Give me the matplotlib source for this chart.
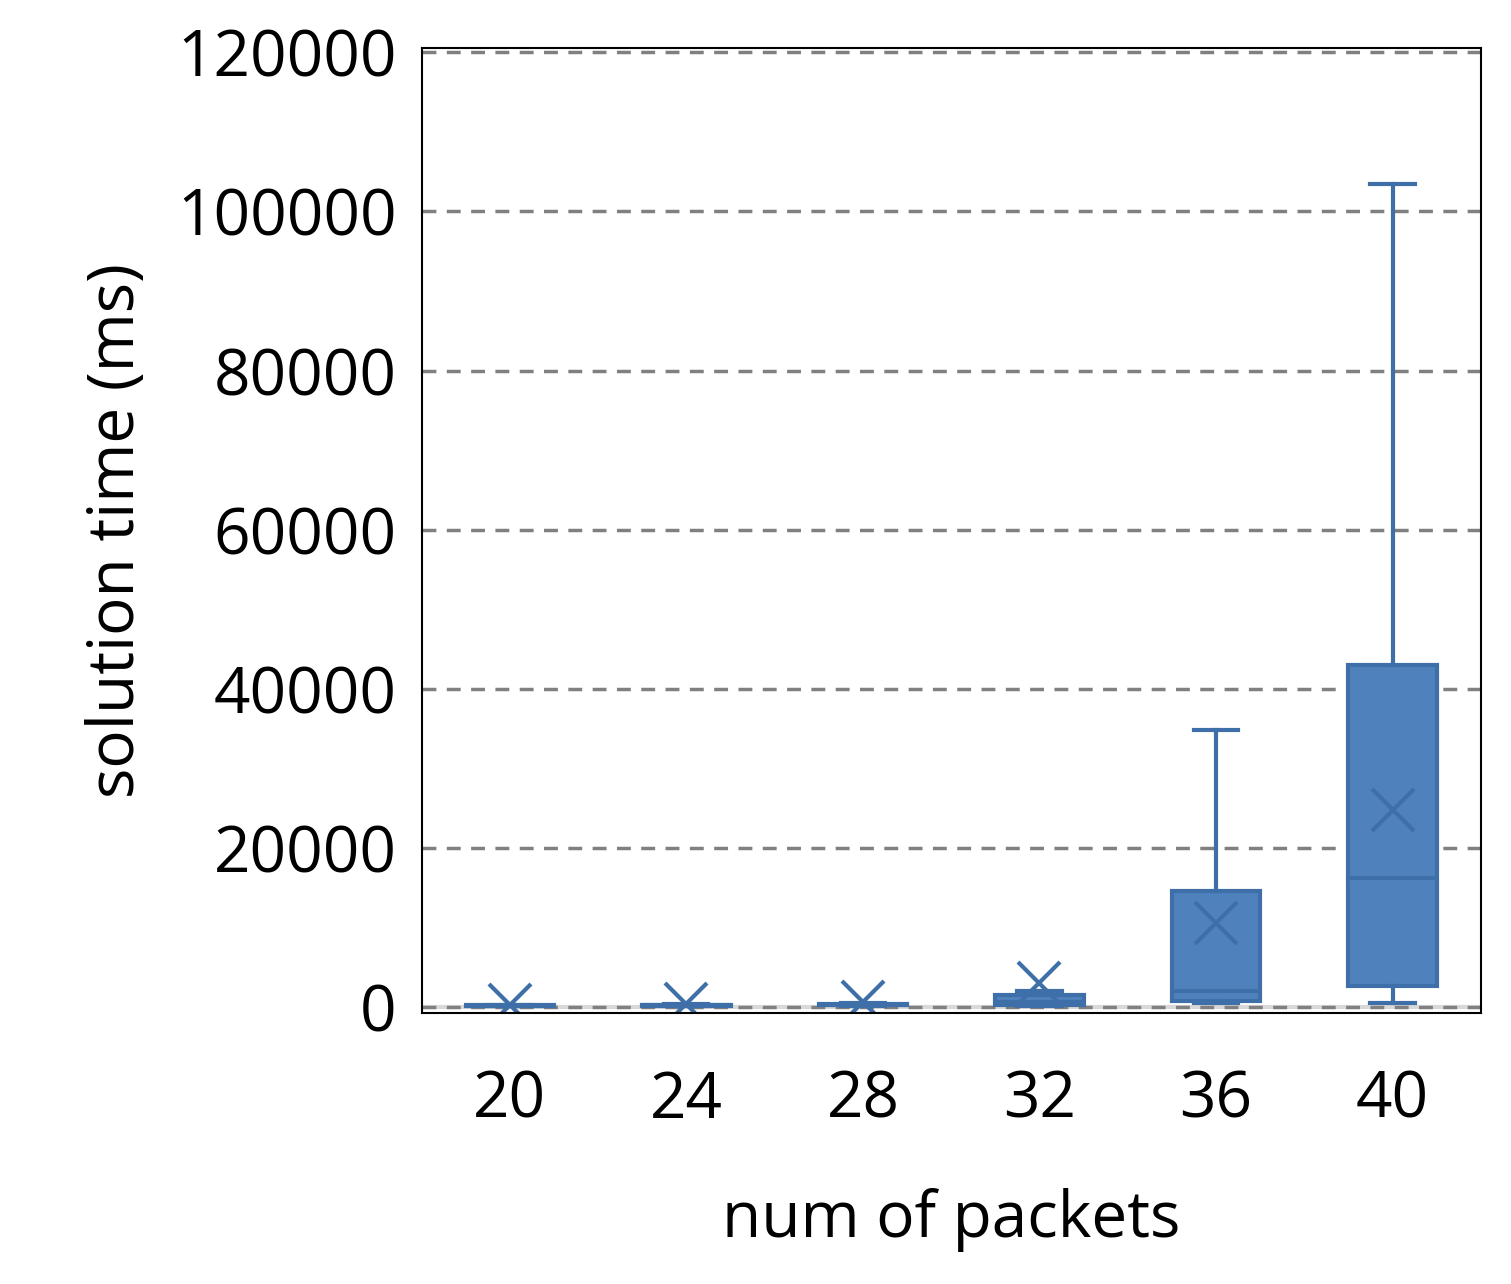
import matplotlib
matplotlib.use("Agg")
import matplotlib.pyplot as plt

plt.rcParams['font.family'] = ['Open Sans', 'DejaVu Sans']

# values (ms)
packets = ["20", "24", "28", "32", "36", "40"]
whislo = [100, 100, 150, 200, 500, 500]
q1 = [150, 200, 250, 300, 800, 2700]
med = [200, 250, 300, 700, 2000, 16200]
q3 = [250, 300, 400, 1500, 14600, 43000]
whishi = [300, 350, 500, 2000, 34800, 103500]
mean = [300, 350, 600, 3000, 10600, 24800]

stats = []
for i in range(len(packets)):
    stats.append(dict(label=packets[i], whislo=whislo[i], q1=q1[i], med=med[i],
                      q3=q3[i], whishi=whishi[i], mean=mean[i], fliers=[]))

fig = plt.figure(figsize=(15.11, 12.84), dpi=100)
ax = fig.add_axes([0.279, 0.211, 0.701, 0.752])

edge = '#3F6FA8'
ax.bxp(stats, widths=0.5, patch_artist=True, showmeans=True, showfliers=False,
       boxprops=dict(facecolor='#4F81BD', edgecolor=edge, linewidth=3),
       medianprops=dict(color=edge, linewidth=3),
       whiskerprops=dict(color=edge, linewidth=3),
       capprops=dict(color=edge, linewidth=3),
       meanprops=dict(marker='x', markeredgecolor=edge, markersize=30, markeredgewidth=3))

ax.set_ylim(-750, 120600)
ax.set_xlim(0.5, 6.5)
ax.set_yticks(range(0, 120001, 20000))
ax.yaxis.grid(True, linestyle=(0, (4, 3)), color='#808080', linewidth=2.5)
ax.axhline(0, color='#d9d9d9', linewidth=3, zorder=0)
ax.set_axisbelow(True)
ax.tick_params(length=0, labelsize=46, pad=18)
ax.tick_params(axis='x', pad=40)
for s in ax.spines.values():
    s.set_linewidth(1.5)
ax.set_xlabel("num of packets", fontsize=46, labelpad=40)
ax.set_ylabel("solution time (ms)", fontsize=46, labelpad=20)

fig.savefig("out.png")
